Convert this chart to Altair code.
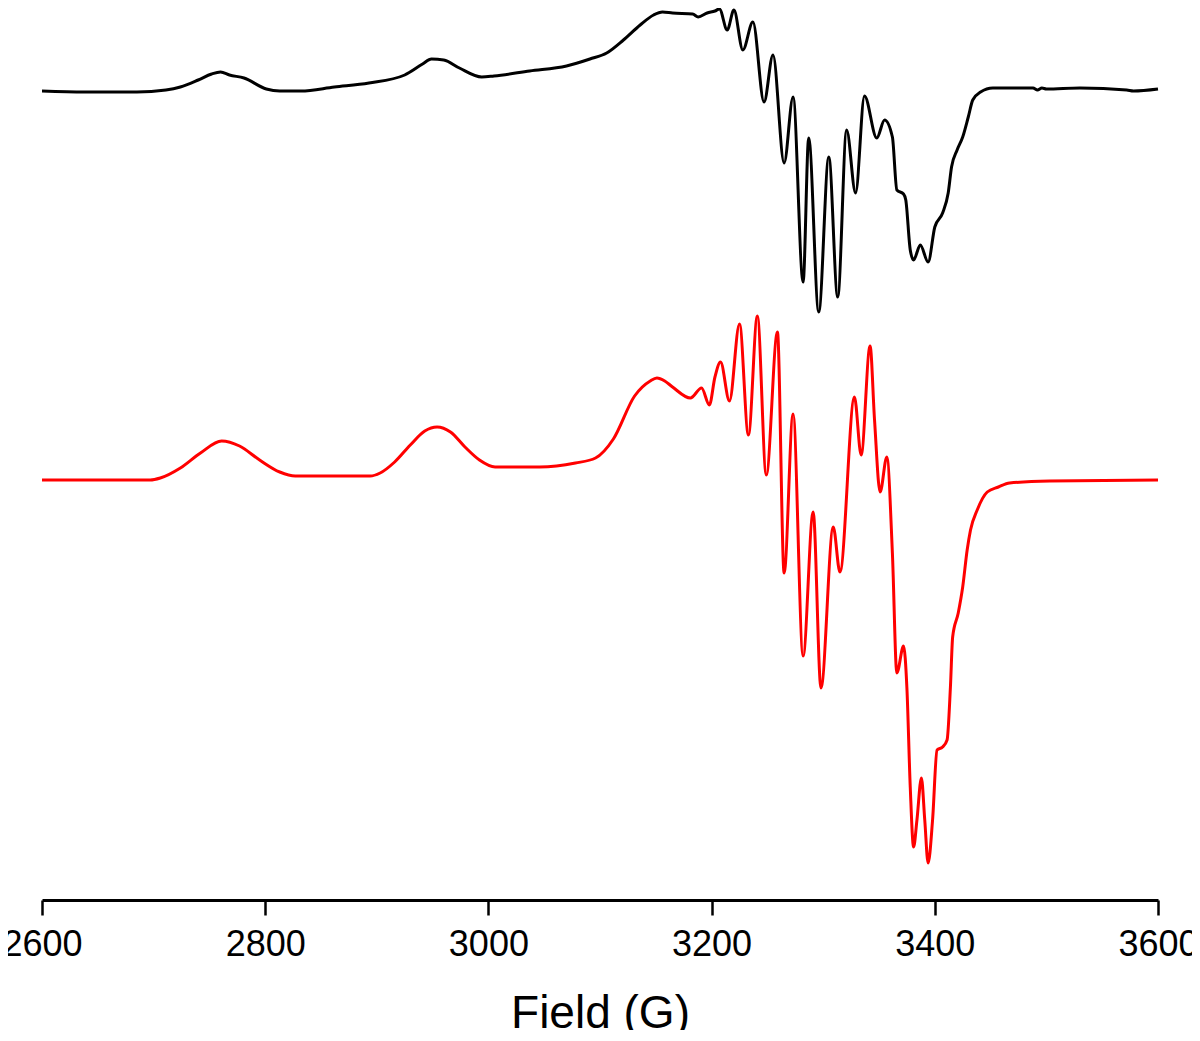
import altair as alt
import pandas as pd

# Experimental spectrum (black): magnetic field (G) and signal (arb. units, relative to its baseline)
black_field = [2600, 2638, 2685, 2711, 2724, 2740, 2752, 2760, 2768, 2781, 2801, 2813, 2832, 2862,
               2893, 2925, 2941, 2949, 2960, 2974, 2994, 3005, 3037, 3070, 3091, 3106, 3121, 3136,
               3148, 3156, 3165, 3183, 3188, 3196, 3203, 3207, 3214, 3220, 3228, 3237, 3247, 3255,
               3265, 3273, 3282, 3287, 3296, 3305, 3313, 3321, 3329, 3337, 3348, 3355, 3362, 3366,
               3372, 3374, 3378, 3381, 3387, 3394, 3400, 3407, 3412, 3415, 3420, 3425, 3430, 3434,
               3441, 3452, 3488, 3492, 3496, 3500, 3530, 3572, 3578, 3600]
black_signal = [-1, -2, -2, 0, 3, 10, 16, 18, 15, 12, 1, -1, -1, 3,
                7, 15, 26, 31, 30, 22, 13, 14, 19, 24, 31, 37, 50, 65,
                75, 78, 77, 76, 73, 77, 79, 81, 60, 80, 40, 68, -12, 35,
                -73, -7, -192, -48, -222, -67, -207, -40, -103, -6, -48, -30, -47, -100,
                -104, -110, -160, -170, -155, -172, -137, -123, -103, -77, -60, -47, -27, -10,
                -2, 2, 2, 0, 2, 1, 2, 0, -1, 1]

# Simulated spectrum (red)
red_field = [2600, 2697, 2706, 2724, 2742, 2761, 2777, 2795, 2813, 2827, 2894, 2903, 2916, 2930,
             2943, 2954, 2966, 2979, 2992, 3006, 3046, 3078, 3096, 3112, 3131, 3145, 3151, 3158, 3165,
             3181, 3191, 3198, 3203, 3208, 3216, 3225, 3233, 3241, 3249, 3259, 3265, 3273, 3282,
             3291, 3298, 3309, 3315, 3328, 3334, 3342, 3346, 3351, 3357, 3362, 3366, 3372, 3375,
             3378, 3381, 3384, 3388, 3391, 3394, 3398, 3402, 3407, 3411, 3414, 3416, 3421, 3425,
             3429, 3432, 3438, 3447, 3457, 3467, 3503, 3600]
red_signal = [0, 0, 2, 12, 27, 39, 34, 20, 8, 4, 4, 7, 18, 35,
              49, 53, 48, 33, 20, 13, 13, 17, 22, 41, 84, 99, 102, 99, 93,
              82, 92, 75, 103, 118, 79, 156, 45, 164, 5, 148, -93, 66, -176,
              -32, -208, -47, -92, 83, 25, 134, 60, -12, 23, -73, -193, -166, -208,
              -307, -367, -340, -298, -340, -383, -340, -270, -267, -260, -207, -157, -133, -107,
              -70, -50, -30, -12, -7, -3, -1, 0]

# vertical stacking offsets of the two spectra (arb. units)
black_offset = 810
red_offset = 420

ticks = [2600, 2800, 3000, 3200, 3400, 3600]

rows = []
for f, s in zip(black_field, black_signal):
    rows.append({"field": f, "value": s + black_offset, "trace": "Experimental"})
for f, s in zip(red_field, red_signal):
    rows.append({"field": f, "value": s + red_offset, "trace": "Simulated"})
df = pd.DataFrame(rows)

chart = alt.Chart(df).mark_line(strokeWidth=3, interpolate="monotone").encode(
    x=alt.X("field:Q",
            scale=alt.Scale(domain=[2600, 3600], nice=False, zero=False),
            axis=alt.Axis(values=ticks, format="d", title="Field (G)", grid=False,
                          labelFlush=False, labelOverlap=False,
                          labelFont="Liberation Sans", labelFontSize=36, labelColor="black",
                          labelPadding=12,
                          titleFont="Liberation Sans", titleFontSize=46, titleFontWeight="normal",
                          titleColor="black", titlePadding=29,
                          domainColor="black", domainWidth=3,
                          tickColor="black", tickWidth=2.5, tickSize=15)),
    y=alt.Y("value:Q", scale=alt.Scale(domain=[0, 892], nice=False, zero=False), axis=None),
    color=alt.Color("trace:N",
                    scale=alt.Scale(domain=["Experimental", "Simulated"], range=["#000000", "#ff0000"]),
                    legend=None),
    detail="trace:N",
).properties(
    width=1116,
    height=892,
    autosize=alt.AutoSizeParams(type="none"),
    padding={"left": 34, "top": 0, "right": 34, "bottom": 130},
    background="white",
).configure_view(stroke=None)

chart.save("out.html", embed_options={"renderer": "svg", "actions": False})
